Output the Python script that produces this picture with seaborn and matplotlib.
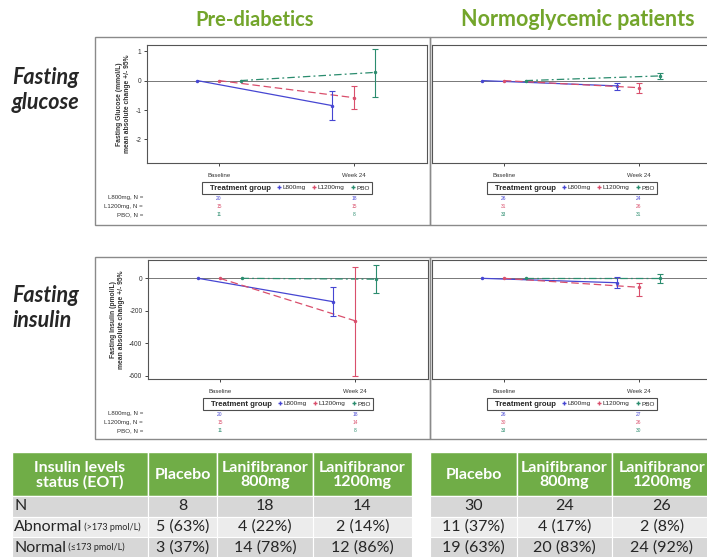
import matplotlib
matplotlib.use("Agg")
import matplotlib.pyplot as plt
import matplotlib.patches as mpatches
from matplotlib.lines import Line2D
import seaborn as sns
import pandas as pd

W, H = 707, 557

visits = ["Baseline", "Week 24"]
groups = ["L800mg", "L1200mg", "PBO"]
n_labels = ["L800mg, N =", "L1200mg, N =", "PBO, N ="]
colors = {"L800mg": "#4646d2", "L1200mg": "#d94f6c", "PBO": "#2b8c6e"}
dashes = {"L800mg": "", "L1200mg": (6, 3), "PBO": (6, 2.5, 1.5, 2.5)}
offsets = {"L800mg": -0.16, "L1200mg": 0.0, "PBO": 0.16}

# week 24 mean absolute change and 95% CI (baseline = 0)
glu_pre_mean = [-0.85, -0.58, 0.28]
glu_pre_lo = [-1.33, -0.96, -0.55]
glu_pre_hi = [-0.37, -0.20, 1.07]
glu_norm_mean = [-0.18, -0.24, 0.16]
glu_norm_lo = [-0.31, -0.43, 0.05]
glu_norm_hi = [-0.07, -0.07, 0.27]

ins_pre_mean = [-144, -261, -5]
ins_pre_lo = [-230, -600, -88]
ins_pre_hi = [-55, 71, 82]
ins_norm_mean = [-27, -55, 0]
ins_norm_lo = [-62, -107, -31]
ins_norm_hi = [10, -31, 26]

# N at baseline / week 24
n_glu_pre = [[20, 18], [15, 15], [11, 8]]
n_glu_norm = [[26, 24], [31, 26], [33, 31]]
n_ins_pre = [[20, 18], [15, 14], [11, 8]]
n_ins_norm = [[26, 27], [30, 26], [33, 30]]

# table
tbl_header_left = ["Insulin levels\nstatus (EOT)", "Placebo", "Lanifibranor\n800mg", "Lanifibranor\n1200mg"]
tbl_header_right = ["Placebo", "Lanifibranor\n800mg", "Lanifibranor\n1200mg"]
row_names = ["N", "Abnormal", "Normal"]
row_notes = ["", "(>173 pmol/L)", "(\u2264173 pmol/L)"]
pre_rows = [["8", "18", "14"], ["5 (63%)", "4 (22%)", "2 (14%)"], ["3 (37%)", "14 (78%)", "12 (86%)"]]
norm_rows = [["30", "24", "26"], ["11 (37%)", "4 (17%)", "2 (8%)"], ["19 (63%)", "20 (83%)", "24 (92%)"]]

sns.set_style("white")
plt.rcParams["font.family"] = ["Liberation Sans", "DejaVu Sans"]

fig = plt.figure(figsize=(W / 100, H / 100), dpi=100)


def box(x0, y0, x1, y1):
    return [x0 / W, 1 - y1 / H, (x1 - x0) / W, (y1 - y0) / H]


def panel(pbox, mean, lo, hi, ylim, yticks, ylabel, counts, left):
    ax = fig.add_axes(box(*pbox))
    hpx = pbox[3] - pbox[1]
    rows = []
    for g, m in zip(groups, mean):
        for i, val in enumerate([0.0, m]):
            rows.append({"group": g, "x": i + offsets[g], "change": val})
    df = pd.DataFrame(rows)
    ax.axhline(0, color="#777777", lw=0.7, zorder=1)
    sns.lineplot(data=df, x="x", y="change", hue="group", style="group",
                 palette=colors, dashes=dashes, markers={g: "o" for g in groups},
                 markersize=2.5, markeredgewidth=0, lw=0.9, legend=False, ax=ax)
    for g, m, l, h in zip(groups, mean, lo, hi):
        ax.errorbar([1 + offsets[g]], [m], yerr=[[m - l], [h - m]], fmt="none",
                    ecolor=colors[g], elinewidth=0.8, capsize=2.5, capthick=0.8)
    ax.set_xlim(-0.533, 1.542)
    ax.set_ylim(*ylim)
    ax.set_xticks([0, 1])
    ax.set_xticklabels(visits, fontsize=4.3, color="#333333")
    ax.set_xlabel("")
    ax.tick_params(axis="x", length=2, width=0.6, pad=5, bottom=True)
    for s in ax.spines.values():
        s.set_color("#555555")
        s.set_linewidth(0.8)
    ax.set_yticks(yticks)
    if left:
        ax.set_yticklabels([f"{t:g}" for t in yticks], fontsize=4.8, color="#333333")
        ax.tick_params(axis="y", length=2, width=0.6, pad=2, left=True)
        ax.set_ylabel(ylabel, fontsize=4.9, fontweight="bold", labelpad=3, color="#333333")
    else:
        ax.set_yticklabels([])
        ax.set_ylabel("")
    # legend
    handles = [Line2D([], [], linestyle="none")]
    handles += [Line2D([], [], linestyle="none", marker="+", markersize=2.5,
                       color=colors[g]) for g in groups]
    leg = ax.legend(handles, ["Treatment group"] + groups, ncol=4, loc="center",
                    bbox_to_anchor=(0.5, -25 / hpx), fontsize=4.6, frameon=True,
                    fancybox=False, edgecolor="#222222", handlelength=0.6,
                    handletextpad=0.3, columnspacing=1.0, borderpad=0.35)
    leg.get_frame().set_linewidth(0.8)
    leg.get_texts()[0].set_fontweight("bold")
    leg.get_texts()[0].set_fontsize(5.6)
    # N rows
    for k, g in enumerate(groups):
        yy = -(35 + 8.5 * k) / hpx
        for i in range(2):
            ax.text(i + offsets["L1200mg"], yy, str(counts[k][i]), color=colors[g],
                    fontsize=3.5, ha="center", va="center",
                    transform=ax.get_xaxis_transform())
        if left:
            fig.text(143 / W, 1 - (pbox[3] + 35 + 8.5 * k) / H, n_labels[k],
                     fontsize=4.4, ha="right", va="center", color="#333333")
    return ax


def frame(x0, y0, x1, y1):
    fig.add_artist(mpatches.Rectangle((x0 / W, 1 - y1 / H), (x1 - x0) / W, (y1 - y0) / H,
                                      transform=fig.transFigure, fill=False,
                                      edgecolor="#8a8a8a", lw=1.0))


frame(95, 37, 430, 225)
frame(430, 37, 725, 225)
frame(95, 257, 430, 439)
frame(430, 257, 725, 439)

panel((147, 45, 427, 163), glu_pre_mean, glu_pre_lo, glu_pre_hi, (-2.8, 1.21), [-2, -1, 0, 1],
      "Fasting Glucose (mmol/L)\nmean absolute change +/- 95%", n_glu_pre, True)
panel((432, 45, 712, 163), glu_norm_mean, glu_norm_lo, glu_norm_hi, (-2.8, 1.21), [-2, -1, 0, 1],
      "", n_glu_norm, False)
panel((148, 260, 428, 379), ins_pre_mean, ins_pre_lo, ins_pre_hi, (-620, 113), [-600, -400, -200, 0],
      "Fasting Insulin (pmol/L)\nmean absolute change +/- 95%", n_ins_pre, True)
panel((432, 260, 712, 379), ins_norm_mean, ins_norm_lo, ins_norm_hi, (-620, 113), [-600, -400, -200, 0],
      "", n_ins_norm, False)

green = "#73a52b"
fig.text(255 / W, 1 - 20 / H, "Pre-diabetics", color=green, fontsize=14.5, fontweight="bold",
         ha="center", va="center", family="Lato")
fig.text(578 / W, 1 - 20 / H, "Normoglycemic patients", color=green, fontsize=15.5,
         fontweight="bold", ha="center", va="center", family="Lato")
fig.text(12 / W, 1 - 90 / H, "Fasting\nglucose", fontsize=15.5, fontweight="bold", style="italic",
         ha="left", va="center", family="Lato", linespacing=1.2)
fig.text(12 / W, 1 - 308 / H, "Fasting\ninsulin", fontsize=15.5, fontweight="bold", style="italic",
         ha="left", va="center", family="Lato", linespacing=1.2)

# tables
tax = fig.add_axes([0, 0, 1, (H - 445) / H])
tax.set_xlim(0, W)
tax.set_ylim(H, 445)
tax.axis("off")
head_color = "#70ad47"
row_colors = ["#d7d7d7", "#ececec", "#d7d7d7"]
y_edges = [452, 496, 516.5, 537, 558]


def table(col_edges, header, rows, with_names):
    ncol = len(col_edges) - 1
    for c in range(ncol):
        x0, x1 = col_edges[c], col_edges[c + 1]
        tax.add_patch(mpatches.Rectangle((x0, y_edges[0]), x1 - x0, y_edges[1] - y_edges[0],
                                         facecolor=head_color, edgecolor="white", lw=1))
        tax.text((x0 + x1) / 2, (y_edges[0] + y_edges[1]) / 2 + 1, header[c], color="white",
                 fontsize=11.5, fontweight="bold", ha="center", va="center", family="Lato",
                 linespacing=1.0)
        for r in range(3):
            tax.add_patch(mpatches.Rectangle((x0, y_edges[r + 1]), x1 - x0,
                                             y_edges[r + 2] - y_edges[r + 1],
                                             facecolor=row_colors[r], edgecolor="white", lw=0.8))
    data_start = 1 if with_names else 0
    for r in range(3):
        yc = (y_edges[r + 1] + y_edges[r + 2]) / 2
        if with_names:
            t = tax.text(col_edges[0] + 2, yc, row_names[r], fontsize=11.5, ha="left",
                         va="center", family="Lato")
            if row_notes[r]:
                tax.annotate(" " + row_notes[r], xycoords=t, xy=(1, 0.5), va="center",
                             ha="left", fontsize=6.5, family="Lato")
        for c, val in enumerate(rows[r]):
            x0, x1 = col_edges[c + data_start], col_edges[c + data_start + 1]
            tax.text((x0 + x1) / 2, yc, val, fontsize=11.5, ha="center", va="center", family="Lato")


table([12, 148, 217, 313, 412], tbl_header_left, pre_rows, True)
table([430, 517, 612, 712], tbl_header_right, norm_rows, False)

fig.savefig("out.png", dpi=100, facecolor="white")
